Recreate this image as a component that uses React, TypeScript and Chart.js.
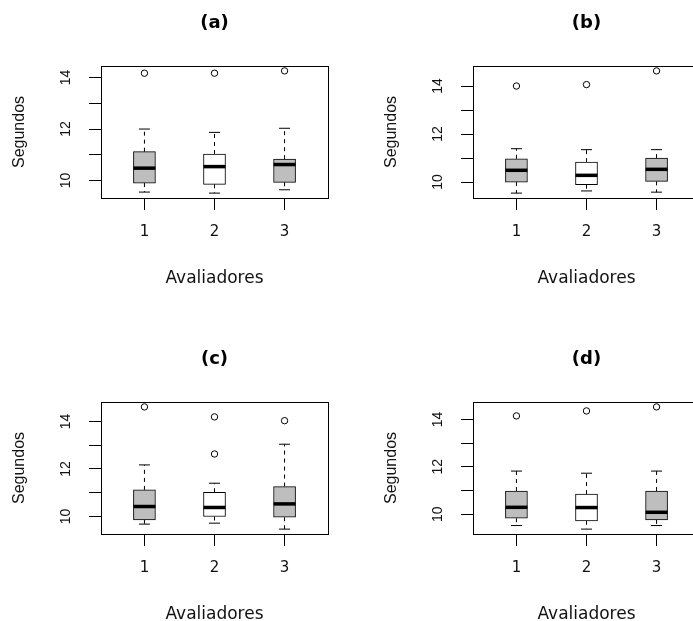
import React, { useEffect, useRef } from 'react';
import { Chart, registerables } from 'chart.js';

Chart.register(...registerables);

// ---- data ----
const categories = [1, 2, 3];
const yTickValues = [10, 11, 12, 13, 14];
const boxColors = ['#bebebe', '#ffffff', '#bebebe'];
const xTitle = 'Avaliadores';
const yTitle = 'Segundos';

const titles = ['(a)', '(b)', '(c)', '(d)'];

const aQ1 = [9.9, 9.85, 9.93];
const aMed = [10.48, 10.54, 10.62];
const aQ3 = [11.12, 11.03, 10.83];
const aLo = [9.55, 9.51, 9.64];
const aHi = [12.0, 11.87, 12.03];
const aOut = [[14.17], [14.17], [14.26]];

const bQ1 = [10.0, 9.89, 10.03];
const bMed = [10.49, 10.28, 10.53];
const bQ3 = [10.97, 10.83, 11.0];
const bLo = [9.54, 9.63, 9.58];
const bHi = [11.39, 11.35, 11.35];
const bOut = [[14.0], [14.06], [14.63]];

const cQ1 = [9.86, 10.0, 9.97];
const cMed = [10.42, 10.38, 10.53];
const cQ3 = [11.12, 11.02, 11.26];
const cLo = [9.68, 9.72, 9.47];
const cHi = [12.17, 11.4, 13.04];
const cOut = [[14.61], [14.19, 12.63], [14.03]];

const dQ1 = [9.83, 9.72, 9.76];
const dMed = [10.29, 10.28, 10.08];
const dQ3 = [10.98, 10.85, 10.98];
const dLo = [9.52, 9.37, 9.52];
const dHi = [11.82, 11.73, 11.82];
const dOut = [[14.15], [14.36], [14.53]];

type PanelData = {
  title: string;
  q1: number[];
  med: number[];
  q3: number[];
  lo: number[];
  hi: number[];
  out: number[][];
};

const panels: PanelData[] = [
  { title: titles[0], q1: aQ1, med: aMed, q3: aQ3, lo: aLo, hi: aHi, out: aOut },
  { title: titles[1], q1: bQ1, med: bMed, q3: bQ3, lo: bLo, hi: bHi, out: bOut },
  { title: titles[2], q1: cQ1, med: cMed, q3: cQ3, lo: cLo, hi: cHi, out: cOut },
  { title: titles[3], q1: dQ1, med: dMed, q3: dQ3, lo: dLo, hi: dHi, out: dOut },
];

const PANEL_W = 372;
const PANEL_H = 336;

const framePlugin = {
  id: 'rframe',
  afterDraw(chart: any) {
    const { ctx, chartArea } = chart;
    const l = Math.round(chartArea.left) + 0.5;
    const t = Math.round(chartArea.top) + 0.5;
    const w = Math.round(chartArea.right) - Math.round(chartArea.left);
    const h = Math.round(chartArea.bottom) - Math.round(chartArea.top);
    ctx.save();
    ctx.strokeStyle = '#000';
    ctx.lineWidth = 1;
    ctx.strokeRect(l, t, w, h);
    ctx.restore();
  },
};

function segments(from: number[], to: number[]) {
  const pts: any[] = [];
  categories.forEach((c, i) => {
    pts.push({ x: c, y: from[i] });
    pts.push({ x: c, y: to[i] });
    pts.push({ x: c + 0.5, y: null });
  });
  return pts;
}

function BoxPanel({ p, left, top }: { p: PanelData; left: number; top: number }) {
  const ref = useRef<HTMLCanvasElement>(null);
  useEffect(() => {
    const all = [...p.lo, ...p.hi, ...p.out.flat()];
    const mn = Math.min(...all);
    const mx = Math.max(...all);
    const ext = (mx - mn) * 0.04;
    const black = '#000';
    const chart = new Chart(ref.current as HTMLCanvasElement, {
      type: 'bar',
      data: {
        datasets: [
          {
            type: 'line',
            data: segments(p.q3, p.hi),
            borderColor: black,
            borderWidth: 1,
            borderDash: [4, 4],
            pointRadius: 0,
            spanGaps: false,
            tension: 0,
            fill: false,
            order: 5,
          } as any,
          {
            type: 'line',
            data: segments(p.q1, p.lo),
            borderColor: black,
            borderWidth: 1,
            borderDash: [4, 4],
            pointRadius: 0,
            spanGaps: false,
            tension: 0,
            fill: false,
            order: 5,
          } as any,
          {
            type: 'bar',
            data: categories.map((c, i) => ({ x: c, y: [p.q1[i], p.q3[i]] })),
            backgroundColor: boxColors,
            borderColor: black,
            borderWidth: 1,
            borderSkipped: false,
            barThickness: 22,
            grouped: false,
            order: 4,
          } as any,
          {
            type: 'scatter',
            data: [
              ...categories.map((c, i) => ({ x: c, y: p.hi[i] })),
              ...categories.map((c, i) => ({ x: c, y: p.lo[i] })),
            ],
            pointStyle: 'line',
            pointRadius: 5.5,
            pointBorderWidth: 1,
            pointBorderColor: black,
            borderColor: black,
            order: 3,
          } as any,
          {
            type: 'scatter',
            data: categories.map((c, i) => ({ x: c, y: p.med[i] })),
            pointStyle: 'line',
            pointRadius: 11,
            pointBorderWidth: 3.5,
            pointBorderColor: black,
            borderColor: black,
            order: 1,
          } as any,
          {
            type: 'scatter',
            data: p.out.flatMap((arr, i) => arr.map((v) => ({ x: categories[i], y: v }))),
            pointStyle: 'circle',
            pointRadius: 3.2,
            pointBorderWidth: 1,
            pointBorderColor: black,
            pointBackgroundColor: 'rgba(255,255,255,0)',
            borderColor: black,
            order: 2,
          } as any,
        ],
      },
      options: {
        responsive: false,
        animation: false,
        events: [],
        layout: { padding: { left: 0, right: 44, top: 0, bottom: 0 } },
        plugins: {
          legend: { display: false },
          tooltip: { enabled: false },
          title: {
            display: true,
            text: p.title,
            fullSize: false,
            color: '#000',
            font: { family: "'DejaVu Sans'", size: 18, weight: 'bold', lineHeight: 1.2 },
            padding: { top: 12.2, bottom: 32.2 },
          },
        },
        scales: {
          x: {
            type: 'linear',
            position: 'bottom',
            min: 0.38,
            max: 3.62,
            offset: false,
            afterBuildTicks: (s: any) => {
              s.ticks = categories.map((v) => ({ value: v }));
            },
            afterFit: (s: any) => {
              s.height = 138;
            },
            grid: {
              display: true,
              offset: false,
              drawOnChartArea: false,
              drawTicks: true,
              tickLength: 12,
              color: black,
              lineWidth: 1,
            },
            border: { display: false },
            ticks: {
              color: '#111',
              font: { family: "'DejaVu Sans'", size: 15, lineHeight: 1.2 },
              padding: 13,
              autoSkip: false,
              minRotation: 0,
              maxRotation: 0,
              callback: (v: any) => String(v),
            },
            title: {
              display: true,
              text: xTitle,
              color: '#111',
              font: { family: "'DejaVu Sans'", size: 17, lineHeight: 1.2 },
              padding: { top: 0, bottom: 47 },
            },
          },
          y: {
            type: 'linear',
            position: 'left',
            min: mn - ext,
            max: mx + ext,
            beginAtZero: false,
            afterBuildTicks: (s: any) => {
              s.ticks = yTickValues.map((v) => ({ value: v }));
            },
            afterFit: (s: any) => {
              s.width = 101;
            },
            grid: {
              display: true,
              drawOnChartArea: false,
              drawTicks: true,
              tickLength: 12,
              color: black,
              lineWidth: 1,
            },
            border: { display: false },
            ticks: {
              color: '#111',
              font: { family: "'Liberation Sans'", size: 14, lineHeight: 1.2 },
              padding: 15.2,
              autoSkip: false,
              minRotation: 90,
              maxRotation: 90,
              crossAlign: 'center',
              callback: (v: any) => (Number(v) % 2 === 0 ? String(v) : ''),
            },
            title: {
              display: true,
              text: yTitle,
              color: '#111',
              font: { family: "'Liberation Sans'", size: 16, lineHeight: 1.2 },
              padding: { top: 10.4, bottom: 0 },
            },
          },
        },
      } as any,
      plugins: [framePlugin],
    });
    return () => chart.destroy();
  }, [p]);

  return (
    <canvas
      ref={ref}
      width={PANEL_W}
      height={PANEL_H}
      style={{ position: 'absolute', left, top, width: PANEL_W, height: PANEL_H }}
    />
  );
}

export default function App() {
  return (
    <div
      style={{
        position: 'fixed',
        left: 0,
        top: 0,
        width: 693,
        height: 621,
        overflow: 'hidden',
        background: '#fff',
      }}
    >
      {panels.map((p, i) => (
        <BoxPanel key={p.title} p={p} left={(i % 2) * PANEL_W} top={Math.floor(i / 2) * PANEL_H} />
      ))}
    </div>
  );
}
